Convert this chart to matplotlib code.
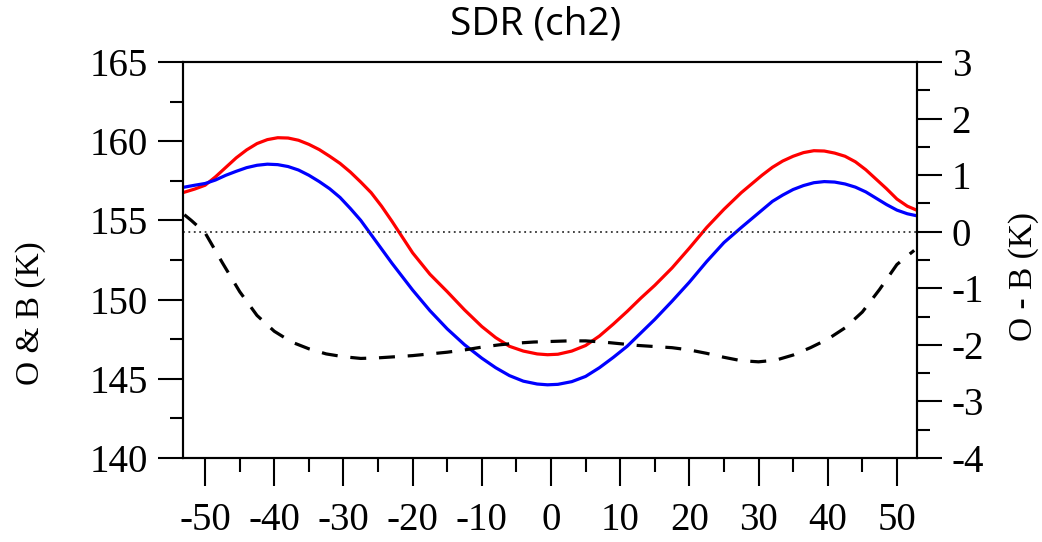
import numpy as np
import matplotlib
matplotlib.use("Agg")
import matplotlib.pyplot as plt
from matplotlib.ticker import MultipleLocator

# ── DATOS ──────────────────────────────────────────────────
lat = [-53, -51.5, -50, -48.5, -47, -45.5, -44, -42.5, -41, -39.5, -38, -36.5,
       -35, -33.5, -32, -30.5, -29, -27.5, -26, -24.5, -23, -21.5, -20, -17.5,
       -15, -12.5, -10, -8, -6, -4, -2, -0.5, 1, 3, 5, 7, 9, 11, 13, 15, 17.5,
       20, 22.5, 25, 27.5, 29, 30.5, 32, 33.5, 35, 36.5, 38, 39.5, 41, 42.5,
       44, 45.5, 47, 48.5, 50, 51.5, 53]

obs_rojo = [156.78, 156.98, 157.22, 157.75, 158.35, 158.95, 159.45, 159.85,
            160.1, 160.22, 160.2, 160.06, 159.8, 159.47, 159.05, 158.6, 158.05,
            157.42, 156.75, 155.9, 154.95, 153.95, 152.95, 151.6, 150.5, 149.35,
            148.3, 147.6, 147.05, 146.75, 146.57, 146.52, 146.55, 146.75,
            147.1, 147.7, 148.45, 149.25, 150.1, 150.9, 152.0, 153.25, 154.55,
            155.7, 156.75, 157.3, 157.85, 158.35, 158.75, 159.05, 159.28,
            159.4, 159.38, 159.25, 159.05, 158.7, 158.2, 157.6, 157.0, 156.35,
            155.9, 155.62]

bkg_azul = [157.1, 157.22, 157.33, 157.55, 157.85, 158.1, 158.33, 158.48,
            158.55, 158.52, 158.4, 158.18, 157.85, 157.45, 157.0, 156.45,
            155.75, 155.0, 154.1, 153.2, 152.3, 151.45, 150.6, 149.3, 148.15,
            147.15, 146.3, 145.7, 145.2, 144.85, 144.67, 144.62, 144.65, 144.82,
            145.15, 145.7, 146.35, 147.05, 147.9, 148.75, 149.9, 151.1, 152.4,
            153.6, 154.55, 155.1, 155.65, 156.2, 156.6, 156.95, 157.2, 157.38,
            157.45, 157.42, 157.3, 157.1, 156.8, 156.4, 156.0, 155.65, 155.42,
            155.28]

lat_omb = [-53, -52, -50, -47.5, -45, -42.5, -40, -37.5, -35, -32.5, -30, -27.5,
           -25, -22.5, -20, -17.5, -15, -12.5, -10, -7.5, -5, -2.5, 0, 2.5, 5,
           7.5, 10, 12.5, 15, 17.5, 20, 22.5, 25, 27.5, 30, 32.5, 35, 37.5, 40,
           42.5, 45, 47.5, 50, 52.5]
omb = [0.30, 0.2, -0.02, -0.55, -1.06, -1.48, -1.76, -1.95, -2.07, -2.16, -2.21,
       -2.24, -2.23, -2.21, -2.19, -2.16, -2.13, -2.09, -2.04, -2.0, -1.97,
       -1.95, -1.94, -1.93, -1.93, -1.95, -1.98, -2.01, -2.03, -2.05, -2.09,
       -2.15, -2.22, -2.28, -2.30, -2.27, -2.18, -2.05, -1.90, -1.70, -1.42,
       -1.02, -0.58, -0.33]

TITULO = "SDR (ch2)"
ETIQ_IZQ = "O & B (K)"
ETIQ_DER = "O - B (K)"
# ───────────────────────────────────────────────────────────

SERIF = "Liberation Serif"
plt.rcParams["axes.unicode_minus"] = False

fig = plt.figure(figsize=(10.42, 5.42), dpi=100)
ax = fig.add_axes([0.1756, 0.155, 0.7044, 0.7306])
ax2 = ax.twinx()

ax.plot(lat, obs_rojo, color="#ff0000", lw=2.3, zorder=3,
        solid_joinstyle="round")
ax.plot(lat, bkg_azul, color="#0000ff", lw=2.3, zorder=3,
        solid_joinstyle="round")

ax2.axhline(0, color="#333333", lw=1.3, ls=(0, (1, 2)))
ax2.plot(lat_omb, omb, color="black", lw=2.3, ls=(0, (5, 4)))

ax.set_xlim(-53.2, 52.9)
ax.set_ylim(140, 165)
ax2.set_ylim(-4, 3)

ax.xaxis.set_major_locator(MultipleLocator(10))
ax.xaxis.set_minor_locator(MultipleLocator(5))
ax.yaxis.set_major_locator(MultipleLocator(5))
ax.yaxis.set_minor_locator(MultipleLocator(2.5))
ax2.yaxis.set_major_locator(MultipleLocator(1))
ax2.yaxis.set_minor_locator(MultipleLocator(0.5))

for a in (ax, ax2):
    for s in a.spines.values():
        s.set_linewidth(1.5)
    a.tick_params(which="major", direction="out", width=1.5, labelsize=28,
                  pad=7)
    a.tick_params(which="minor", direction="out", width=1.5)

ax.tick_params(axis="x", which="major", length=20, pad=12)
ax.tick_params(axis="x", which="minor", length=10)
ax.tick_params(axis="y", which="major", length=18)
ax.tick_params(axis="y", which="minor", length=9.5)
ax2.tick_params(axis="y", which="major", length=18)
ax2.tick_params(axis="y", which="minor", length=9.5)

for lbl in ax.get_xticklabels() + ax.get_yticklabels() + ax2.get_yticklabels():
    lbl.set_fontfamily(SERIF)

fig.text(0.514, 0.954, TITULO, ha="center", va="center", fontsize=28,
         family="Open Sans")
fig.text(0.029, 0.4225, ETIQ_IZQ, ha="center", va="center", rotation=90,
         fontsize=24, family=SERIF)
fig.text(0.982, 0.489, ETIQ_DER, ha="center", va="center", rotation=90,
         fontsize=24, family=SERIF)

fig.savefig("out.png", dpi=100)
